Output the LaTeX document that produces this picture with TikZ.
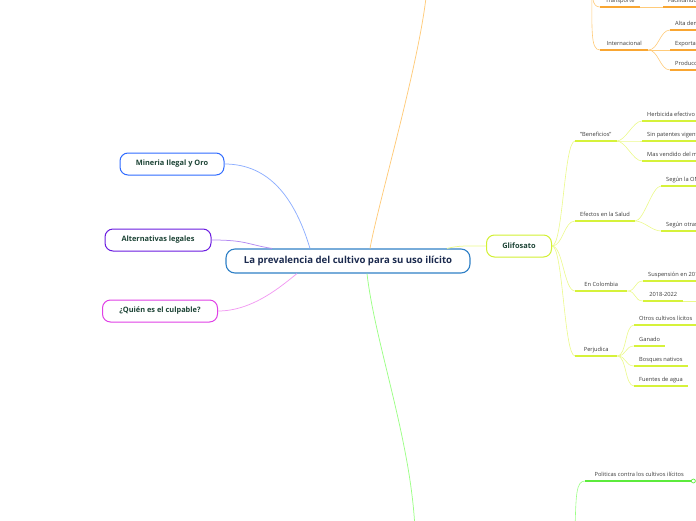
\documentclass[tikz,border=0pt]{standalone}
\usepackage{fontspec}
\setmainfont{Open Sans}
\usepackage{xcolor}
\usetikzlibrary{positioning,calc}

\definecolor{navy}{HTML}{1B2A4E}
\definecolor{deepgreen}{HTML}{1D4436}
\definecolor{labelgray}{HTML}{3A3A3A}
\definecolor{rootline}{HTML}{2F80C6}
\definecolor{bluebd}{HTML}{2F6BFF}
\definecolor{bluebr}{HTML}{8DAEFF}
\definecolor{violetbd}{HTML}{6A1BE0}
\definecolor{violetbr}{HTML}{B48AF2}
\definecolor{pinkbd}{HTML}{E040E6}
\definecolor{pinkbr}{HTML}{F29AF2}
\definecolor{limebd}{HTML}{D2F032}
\definecolor{limebr}{HTML}{EBF98A}
\definecolor{limeul}{HTML}{D6F23A}
\definecolor{orangebr}{HTML}{FFCB7A}
\definecolor{orangeul}{HTML}{F9A632}
\definecolor{greenbr}{HTML}{9CFF86}
\definecolor{greenul}{HTML}{5CEB3C}

\begin{document}
\begin{tikzpicture}[
  x=1pt,y=-1pt,
  rootbox/.style={draw=rootline,line width=1.1pt,rounded corners=9pt,fill=white,
    minimum width=244,minimum height=24,inner sep=0pt,
    font=\bfseries\fontsize{9.6}{12}\selectfont,text=navy},
  bubble/.style={draw=#1,line width=1pt,rounded corners=8pt,fill=white,
    minimum height=22,inner sep=0pt,
    font=\bfseries\fontsize{7.4}{9}\selectfont,text=deepgreen},
  topic/.style={anchor=south west,inner xsep=5,inner ysep=4.5,text depth=0pt,
    font=\fontsize{5.7}{7}\selectfont,text=labelgray},
  branch/.style={draw=#1,line width=0.75pt},
  twig/.style={draw=#1,line width=0.6pt},
  ul/.style={draw=#1,line width=1.7pt}
]
  \useasboundingbox (0,0) rectangle (696,520);
  \clip (0,0) rectangle (696,520);

  % central topic and the bubbles round it
  \node[rootbox] (root) at (348,261) {La prevalencia del cultivo para su uso ilícito};
  \node[bubble=bluebd,minimum width=104] (mineria) at (172,164) {Mineria Ilegal y Oro};
  \node[bubble=violetbd,minimum width=106] (altern) at (158,240) {Alternativas legales};
  \node[bubble=pinkbd,minimum width=115] (quien) at (160,311) {¿Quién es el culpable?};
  \node[bubble=limebd,minimum width=65] (glif) at (519,246) {Glifosato};

  \draw[branch=bluebr] (mineria.east) .. controls +(45,0) and +(-15,-50) .. ($(root.north)+(-38,0)$);
  \draw[branch=violetbr] (altern.east) .. controls +(35,0) and +(-25,-4) .. ($(root.north)+(-76,0)$);
  \draw[branch=pinkbr] (quien.east) .. controls +(35,0) and +(-15,12) .. ($(root.south)+(-51,0)$);
  \draw[branch=limebr] ($(root.north)+(99,0)$) .. controls +(12,-3) and +(-20,0) .. (glif.west);

  % orange branch, its topic lies above the picture
  \coordinate (otop) at (427,-12);
  \coordinate (ohub) at (592,-30);
  \draw[branch=orangebr] ($(root.north)+(22,0)$) .. controls +(8,-45) and +(-6,70) .. (otop);
  \node[topic,minimum width=40] (transp) at (600,7) {Transporte};
  \node[topic] (facil) at (663,7) {Facilitando};
  \node[topic,minimum width=48] (inter) at (600,50) {Internacional};
  \node[topic] (alta) at (670,30) {Alta demanda};
  \node[topic] (expo) at (670,50) {Exportación};
  \node[topic] (prod) at (670,70) {Producción};
  \draw[twig=orangebr] (ohub) .. controls +(0,25) and +(-9,0) .. (transp.south west);
  \draw[twig=orangebr] (ohub) .. controls +(0,60) and +(-10,0) .. (inter.south west);
  \draw[twig=orangebr] (transp.south east) -- (facil.south west);
  \foreach \c in {alta,expo,prod}
    \draw[twig=orangebr] (inter.south east) .. controls +(10,0) and +(-10,0) .. (\c.south west);
  \foreach \n in {transp,facil,inter,alta,expo,prod}
    \draw[ul=orangeul] (\n.south west) -- (\n.south east);

  % glifosato
  \node[topic] (benef) at (575,141) {"Beneficios"};
  \node[topic] (herb) at (642,121) {Herbicida efectivo};
  \node[topic] (sinp) at (642,141) {Sin patentes vigentes};
  \node[topic] (masv) at (642,161) {Mas vendido del mundo};
  \node[topic] (efect) at (575,221) {Efectos en la Salud};
  \node[topic] (oms) at (661,186) {Según la OMS};
  \node[topic] (otra) at (661,231) {Según otras fuentes};
  \node[topic,minimum width=52] (colom) at (575,291) {En Colombia};
  \node[topic] (susp) at (643,281) {Suspensión en 2015};
  \node[topic,minimum width=40] (yr) at (643,301) {2018-2022};
  \node[topic,minimum width=42] (perj) at (575,356) {Perjudica};
  \node[topic] (otros) at (634,325) {Otros cultivos lícitos};
  \node[topic] (ganado) at (634,346) {Ganado};
  \node[topic] (bosq) at (634,366) {Bosques nativos};
  \node[topic] (fuent) at (634,386) {Fuentes de agua};
  \coordinate (yrout) at (700,301);

  \foreach \c in {benef,efect,colom,perj}
    \draw[twig=limebr] (glif.east) .. controls +(11,0) and +(-11,0) .. (\c.south west);
  \foreach \p/\c in {benef/herb,benef/sinp,benef/masv,efect/oms,efect/otra,colom/susp,colom/yr,
    perj/otros,perj/ganado,perj/bosq,perj/fuent}
    \draw[twig=limebr] (\p.south east) .. controls +(9,0) and +(-9,0) .. (\c.south west);
  \draw[twig=limebr] (yr.south east) -- (yrout);
  \foreach \n in {benef,herb,sinp,masv,efect,oms,otra,colom,susp,yr,perj,otros,ganado,bosq,fuent}
    \draw[ul=limeul] (\n.south west) -- (\n.south east);

  % green branch
  \coordinate (gbot) at (415,530);
  \coordinate (gbot2) at (575,530);
  \draw[branch=greenbr] ($(root.south)+(19,0)$) .. controls +(8,70) and +(-4,-90) .. (gbot);
  \node[topic,inner xsep=4,minimum width=108] (polit) at (585,481) {Politicas contra los cultivos ilícitos};
  \draw[twig=greenbr] (gbot2) .. controls +(1,-35) and +(-9,0) .. (polit.south west);
  \draw[ul=greenul] (polit.south west) -- (polit.south east);
  \node[circle,draw=greenul,fill=white,line width=0.7pt,inner sep=0pt,minimum size=4] (politend) at (polit.south east) {};
\end{tikzpicture}
\end{document}
